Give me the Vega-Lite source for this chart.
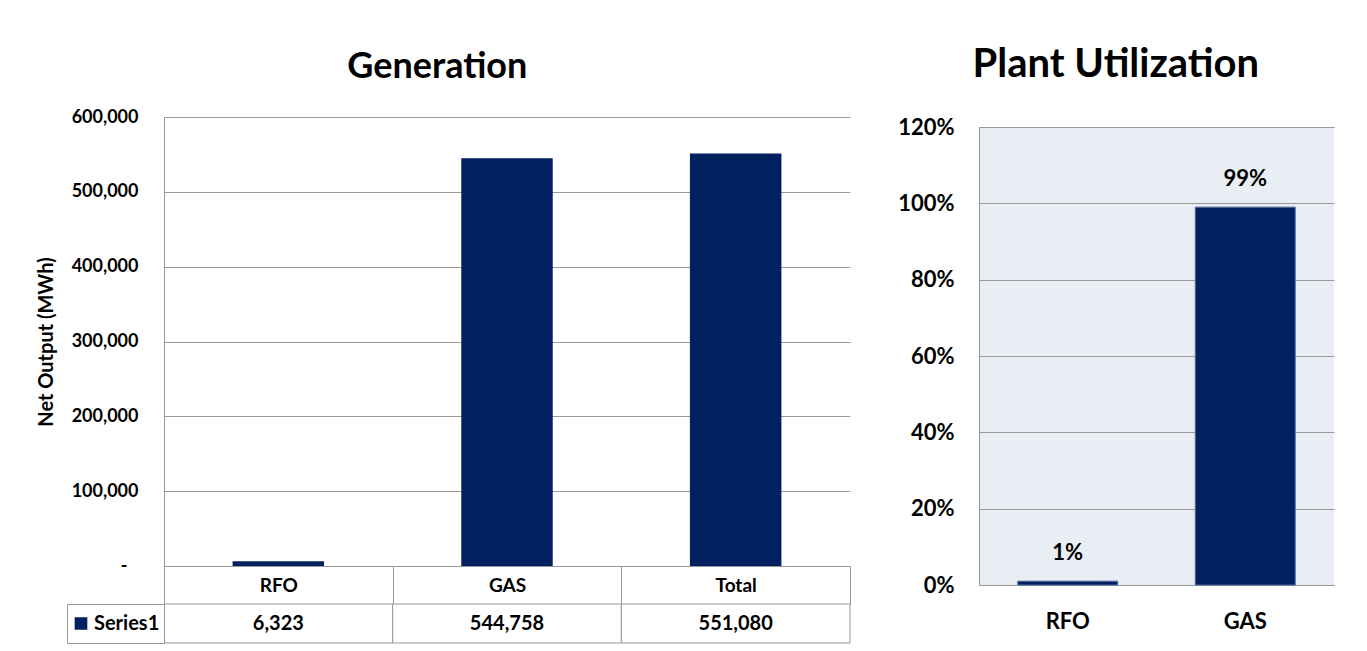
{
  "$schema": "https://vega.github.io/schema/vega-lite/v6.json",
  "padding": {"left": 36, "top": 45, "right": 5, "bottom": 0},
  "background": "white",
  "config": {
    "font": "Lato",
    "view": {"stroke": null},
    "axis": {"labelFont": "Lato", "labelFontWeight": "bold", "labelColor": "black", "titleFont": "Lato", "titleFontWeight": "bold", "titleColor": "black", "domainColor": "#999999", "gridColor": "#999999", "tickColor": "#999999"},
    "title": {"font": "Lato", "fontWeight": "bold", "color": "black", "anchor": "middle"}
  },
  "datasets": {
    "gen": [
      {"cat": "RFO", "value": 6323, "series": "Series1"},
      {"cat": "GAS", "value": 544758, "series": "Series1"},
      {"cat": "Total", "value": 551080, "series": "Series1"}
    ],
    "util": [
      {"cat": "RFO", "value": 0.01},
      {"cat": "GAS", "value": 0.99}
    ],
    "empty": []
  },
  "spacing": 46,
  "resolve": {"scale": {"color": "independent"}, "legend": {"color": "independent"}},
  "hconcat": [
    {
      "title": {"text": "Generation", "fontSize": 36, "offset": 22, "frame": "bounds", "dx": -6},
      "bounds": "flush",
      "spacing": 38,
      "resolve": {"scale": {"color": "independent"}, "legend": {"color": "independent"}},
      "vconcat": [
        {
          "width": 686,
          "height": 449,
          "data": {"name": "gen"},
          "mark": {"type": "bar", "color": "#002060", "width": {"band": 0.4}},
          "encoding": {
            "x": {"field": "cat", "type": "nominal", "sort": null, "scale": {"padding": 0},
              "axis": {"title": null, "labelAngle": 0, "labelFontSize": 19, "labelBaseline": "middle", "ticks": true, "tickBand": "extent", "tickSize": 38, "labelPadding": -19}},
            "y": {"field": "value", "type": "quantitative", "scale": {"domain": [0, 600000]},
              "axis": {"title": "Net Output (MWh)", "titleFontSize": 20, "titlePadding": 15, "values": [0, 100000, 200000, 300000, 400000, 500000, 600000], "labelFontSize": 18, "labelPadding": {"condition": {"test": "datum.value == 0", "value": 37}, "value": 26}, "ticks": false, "labelExpr": "datum.value == 0 ? '-' : format(datum.value, ',')"}}
          }
        },
        {
          "width": 686,
          "height": 39,
          "data": {"name": "gen"},
          "encoding": {"x": {"field": "cat", "type": "nominal", "sort": null, "scale": {"padding": 0}, "axis": null}},
          "layer": [
            {"mark": {"type": "bar", "fill": "white", "stroke": "#999999", "strokeWidth": 1}},
            {"mark": {"type": "text", "fontSize": 20, "fontWeight": "bold", "font": "Lato", "color": "black"},
              "encoding": {"text": {"field": "value", "type": "quantitative", "format": ","}}},
            {"mark": {"type": "point", "shape": "square", "filled": true, "opacity": 0},
              "encoding": {"color": {"field": "series", "type": "nominal", "scale": {"range": ["#002060"]},
                "legend": {"title": null, "orient": "left", "offset": 0, "padding": 4, "clipHeight": 31, "strokeColor": "#999999", "fillColor": "white", "symbolType": "square", "symbolSize": 160, "symbolOpacity": 1, "symbolStrokeWidth": 0, "labelFontSize": 20, "labelFont": "Lato", "labelFontWeight": "bold", "labelColor": "black", "labelOffset": 3}}}}
          ]
        }
      ]
    },
    {
      "title": {"text": "Plant Utilization", "fontSize": 40, "offset": 31, "frame": "bounds"},
      "bounds": "flush",
      "spacing": 9,
      "vconcat": [
        {
          "width": 355,
          "height": 1,
          "data": {"name": "empty"},
          "mark": "point",
          "encoding": {}
        },
        {
          "width": 355,
          "height": 458,
          "view": {"fill": "#E9EDF4", "stroke": null},
          "data": {"name": "util"},
          "encoding": {
            "x": {"field": "cat", "type": "nominal", "sort": null, "scale": {"padding": 0},
              "axis": {"title": null, "labelAngle": 0, "labelFontSize": 22, "ticks": false, "labelPadding": 36, "labelBaseline": "middle"}},
            "y": {"field": "value", "type": "quantitative", "scale": {"domain": [0, 1.2]},
              "axis": {"title": null, "values": [0, 0.2, 0.4, 0.6, 0.8, 1.0, 1.2], "format": ".0%", "labelFontSize": 22, "labelPadding": 25, "ticks": false}}
          },
          "layer": [
            {"mark": {"type": "bar", "color": "#002060", "width": {"band": 0.563}, "stroke": "#4a6a9a", "strokeWidth": 1}},
            {"mark": {"type": "text", "fontSize": 22, "fontWeight": "bold", "baseline": "bottom", "dy": -16, "color": "black"},
              "encoding": {"text": {"field": "value", "type": "quantitative", "format": ".0%"}}}
          ]
        }
      ]
    }
  ]
}
